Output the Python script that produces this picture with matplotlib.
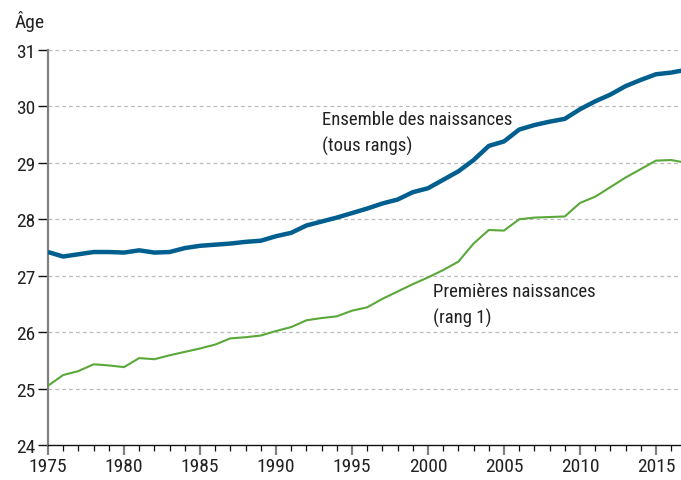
import matplotlib
matplotlib.use("Agg")
import matplotlib.pyplot as plt
from matplotlib.ticker import MultipleLocator

plt.rcParams['font.family'] = ['Roboto Condensed', 'Archivo Narrow', 'DejaVu Sans']

years = list(range(1975, 2018))

# Ensemble des naissances (tous rangs)
age_all = [27.42, 27.34, 27.38, 27.42, 27.42, 27.41, 27.45, 27.41, 27.42, 27.49,
           27.53, 27.55, 27.57, 27.60, 27.62, 27.70, 27.76, 27.89, 27.96, 28.03,
           28.11, 28.19, 28.28, 28.35, 28.48, 28.55, 28.70, 28.85, 29.05, 29.30,
           29.38, 29.59, 29.67, 29.73, 29.78, 29.95, 30.09, 30.21, 30.36, 30.47,
           30.57, 30.60, 30.65]

# Premières naissances (rang 1)
age_first = [25.05, 25.24, 25.31, 25.43, 25.41, 25.38, 25.54, 25.52, 25.59, 25.65,
             25.71, 25.78, 25.89, 25.91, 25.94, 26.02, 26.09, 26.21, 26.25, 26.28,
             26.38, 26.44, 26.59, 26.72, 26.85, 26.97, 27.10, 27.25, 27.57, 27.81,
             27.80, 28.00, 28.03, 28.04, 28.05, 28.29, 28.40, 28.57, 28.74, 28.89,
             29.04, 29.05, 29.00]

y_ticks = [24, 25, 26, 27, 28, 29, 30, 31]
x_ticks = [1975, 1980, 1985, 1990, 1995, 2000, 2005, 2010, 2015]

fig = plt.figure(figsize=(6.81, 4.81), dpi=100)
ax = fig.add_axes([48 / 681, 35 / 481, 1 - 48 / 681, (446 - 51) / 481])

ax.plot(years, age_all, color='#005f8e', lw=3.2, solid_capstyle='butt', zorder=3)
ax.plot(years, age_first, color='#5aa83a', lw=1.5, zorder=3)

ax.set_xlim(1975, 1975 + (681 - 48) / 15.2)
ax.set_ylim(24, 31)

ax.set_yticks(y_ticks)
ax.set_xticks(x_ticks)
ax.xaxis.set_minor_locator(MultipleLocator(1))

for y in y_ticks[1:]:
    ax.axhline(y, color='#bbbbbb', lw=0.9, ls=(0, (3, 2.5)), zorder=1)

for side in ['top', 'right']:
    ax.spines[side].set_visible(False)
ax.spines['left'].set_color('#808080')
ax.spines['left'].set_linewidth(1.6)
ax.spines['bottom'].set_color('#111111')
ax.spines['bottom'].set_linewidth(1.0)

ax.tick_params(axis='y', length=7, width=1.0, color='#111111', labelsize=14,
               labelcolor='#222222', pad=2)
ax.tick_params(axis='x', which='major', length=7, width=1.6, color='#808080',
               labelsize=14, labelcolor='#222222', pad=2)
ax.tick_params(axis='x', which='minor', length=4, width=0.9, color='#111111')

fig.text(15 / 681, 1 - 22 / 481, 'Âge', fontsize=14, color='#222222',
         ha='left', va='center')

ax.text(1975 + (322 - 48) / 15.2, 31 - (120 - 51) / 56.4, 'Ensemble des naissances',
        fontsize=13.5, color='#222222', ha='left', va='center')
ax.text(1975 + (322 - 48) / 15.2, 31 - (146 - 51) / 56.4, '(tous rangs)',
        fontsize=13.5, color='#222222', ha='left', va='center')
ax.text(1975 + (433 - 48) / 15.2, 31 - (292 - 51) / 56.4, 'Premières naissances',
        fontsize=13.5, color='#222222', ha='left', va='center')
ax.text(1975 + (433 - 48) / 15.2, 31 - (318 - 51) / 56.4, '(rang 1)',
        fontsize=13.5, color='#222222', ha='left', va='center')

fig.savefig('out.png', dpi=100)
